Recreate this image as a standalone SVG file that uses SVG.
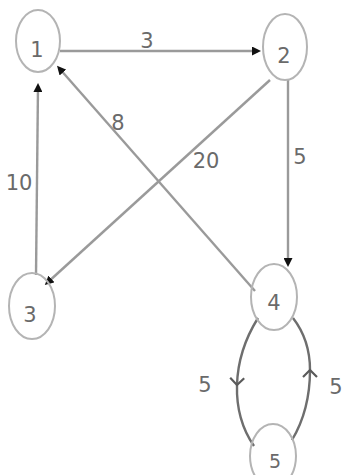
<svg xmlns="http://www.w3.org/2000/svg" width="348" height="475" viewBox="0 0 348 475">
<style>
.n{fill:none;stroke:#b4b4b4;stroke-width:2}
.e{fill:none;stroke:#9a9a9a;stroke-width:2.4}
.l{fill:none;stroke:#6e6e6e;stroke-width:2.4}
text{font-family:"DejaVu Sans",sans-serif;font-size:21px;fill:#6a6a6a;text-anchor:middle}
</style>
<defs>
<marker id="a" markerWidth="9" markerHeight="9" refX="6" refY="4.5" orient="auto" markerUnits="userSpaceOnUse">
<path d="M0,0 L9,4.5 L0,9 z" fill="#111"/>
</marker>
<marker id="c" markerWidth="16" markerHeight="16" refX="8" refY="8" orient="auto" markerUnits="userSpaceOnUse">
<path d="M1,1 L8,8 L1,15" fill="none" stroke="#5a5a5a" stroke-width="2.2"/>
</marker>
</defs>
<rect width="348" height="475" fill="#fff"/>
<g id="connectors">
<line class="e" x1="60" y1="51" x2="258" y2="51" marker-end="url(#a)"/>
<line class="e" x1="255" y1="291" x2="59" y2="68" marker-end="url(#a)"/>
<line class="e" x1="36" y1="275" x2="38" y2="86" marker-end="url(#a)"/>
<line class="e" x1="270" y1="80" x2="47" y2="283" marker-end="url(#a)"/>
<line class="e" x1="288" y1="80" x2="288" y2="264" marker-end="url(#a)"/>
<path class="l" d="M258,318 Q238,350 237,385 Q236,420 254,446" marker-mid="url(#c)"/>
<path class="l" d="M292,440 Q310,410 310,370 Q310,340 293,318" marker-mid="url(#c)"/>
<text x="147" y="48">3</text>
<text x="118" y="130">8</text>
<text x="19" y="190">10</text>
<text x="206" y="168">20</text>
<text x="300" y="164">5</text>
<text x="205" y="392">5</text>
<text x="336" y="394">5</text>
</g>
<g id="node1"><ellipse class="n" cx="38" cy="41" rx="22" ry="31"/><text x="37" y="57">1</text></g>
<g id="node2"><ellipse class="n" cx="285" cy="47" rx="22" ry="33"/><text x="284" y="63">2</text></g>
<g id="node3"><ellipse class="n" cx="32" cy="306" rx="23" ry="33"/><text x="30" y="322">3</text></g>
<g id="node4"><ellipse class="n" cx="274" cy="297" rx="23" ry="33"/><text x="274" y="310">4</text></g>
<g id="node5"><ellipse class="n" cx="273" cy="456" rx="23" ry="32"/><text x="275" y="468" style="font-size:19px">5</text></g>
</svg>
